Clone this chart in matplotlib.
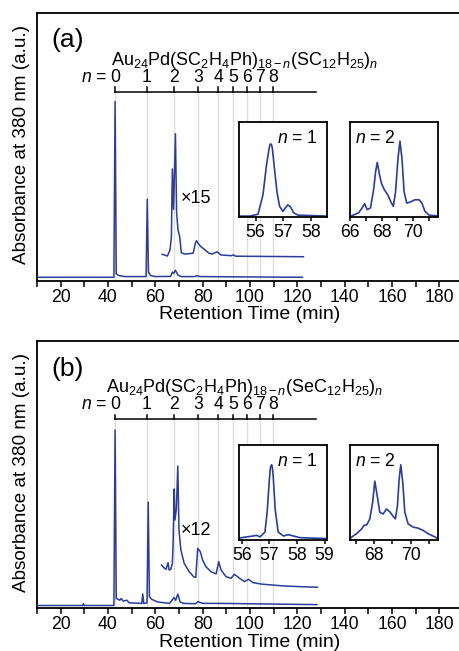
import matplotlib
matplotlib.use('Agg')
import matplotlib.pyplot as plt
from matplotlib.ticker import MultipleLocator

plt.rcParams['font.family'] = ['Liberation Sans', 'DejaVu Sans']
plt.rcParams['mathtext.fontset'] = 'custom'
plt.rcParams['mathtext.rm'] = 'Liberation Sans'
plt.rcParams['mathtext.it'] = 'Liberation Sans:italic'
plt.rcParams['mathtext.bf'] = 'Liberation Sans:bold'

BLUE = '#2b3c9b'
GRID = '#dedede'
FS = 12.7

# retention times of n = 0..8 (min)
n_labels = ['0', '1', '2', '3', '4', '5', '6', '7', '8']
n_times = [43.0, 56.5, 67.8, 78.1, 86.5, 93.0, 98.9, 104.4, 109.9]

# ---- panel (a): Au24Pd(SC2H4Ph)18-n(SC12H25)n ----
a_time = [10, 42.5, 43.0, 43.5, 44.5, 47, 56.1, 56.6, 57.1, 58, 60, 66.5, 67.2,
          67.8, 68.5, 69.6, 71, 76.5, 77.5, 79, 122.2]
a_abs = [0, 0, 1.0, 0.02, 0.01, 0.004, 0.004, 0.444, 0.03, 0.01, 0.004, 0.005,
         0.03, 0.022, 0.04, 0.012, 0.004, 0.004, 0.008, 0.004, 0.0]

# x15 magnified trace (relative to its own baseline)
a15_time = [62.9, 65.1, 66.2, 66.8, 67.2, 67.7, 68.5, 69.0, 69.6, 70.3, 71.0, 72.5,
            76, 76.9, 77.4, 78.3, 79.3, 80.7, 82.8, 84.2, 86.1, 87.8, 92, 93, 94, 122.6]
a15_abs = [0.014, 0.004, 0.038, 0.114, 0.50, 0.27, 0.70, 0.25, 0.152, 0.114, 0.023,
           0.015, 0.02, 0.076, 0.091, 0.072, 0.057, 0.042, 0.019, 0.016, 0.028,
           0.01, 0.006, 0.01, 0.003, 0.0]
a15_offset = 0.117

# inset n = 1
a1_time = [55.4, 55.79, 56.09, 56.27, 56.39, 56.49, 56.52, 56.55, 56.58, 56.61, 56.69,
           56.78, 56.87, 56.99, 57.09, 57.17, 57.26, 57.38, 57.54, 58.6]
a1_abs = [0.0, 0.0, 0.02, 0.23, 0.53, 0.72, 0.76, 0.77, 0.76, 0.72, 0.49, 0.25, 0.105,
          0.05, 0.09, 0.12, 0.10, 0.035, 0.01, 0.0]

# inset n = 2
a2_time = [66.0, 66.06, 66.55, 66.77, 66.93, 67.09, 67.30, 67.51, 67.62, 67.73, 67.86,
           68.0, 68.19, 68.40, 68.58, 68.75, 68.89, 69.04, 69.17, 69.30, 69.43, 69.60,
           69.75, 69.90, 70.11, 70.38, 70.56, 70.75, 71.02, 71.66]
a2_abs = [0, 0.0, 0.035, 0.087, 0.132, 0.069, 0.087, 0.295, 0.469, 0.573, 0.451, 0.347,
          0.278, 0.226, 0.156, 0.104, 0.26, 0.608, 0.799, 0.608, 0.26, 0.139, 0.146,
          0.156, 0.174, 0.174, 0.139, 0.052, 0.01, 0.0]

# ---- panel (b): Au24Pd(SC2H4Ph)18-n(SeC12H25)n ----
b_time = [10, 29.3, 29.6, 30, 42.5, 43.0, 43.5, 45.0, 45.6, 46.5, 48.0, 49, 54.3,
          54.7, 55.1, 56.5, 57.0, 57.5, 58.5, 61, 66, 67.9, 68.6, 69.5, 70.5, 72,
          77, 78, 80, 86.7, 128.3]
b_abs = [0, 0, 0.01, 0, 0, 1.0, 0.04, 0.03, 0.04, 0.025, 0.03, 0.015, 0.012,
         0.065, 0.012, 0.015, 0.59, 0.05, 0.035, 0.02, 0.012, 0.045, 0.03, 0.065,
         0.02, 0.012, 0.01, 0.022, 0.012, 0.012, 0.005]

# x12 magnified trace (absolute height)
b12_time = [62.6, 63.7, 64.5, 65.4, 65.8, 66.5, 67.2, 67.5, 68.0, 68.3, 68.9, 69.5,
            70.0, 70.8, 72.2, 74.3, 76.2, 77.1, 77.9, 79.0, 80.0, 81.4, 83.5, 85.7,
            86.8, 87.8, 89.9, 92.0, 93.4, 95.6, 97.7, 99.4, 101.3, 104.8, 109.1,
            114.7, 121.8, 128.5]
b12_abs = [0.231, 0.214, 0.206, 0.244, 0.202, 0.205, 0.24, 0.35, 0.664, 0.487, 0.55,
           0.795, 0.43, 0.316, 0.24, 0.193, 0.164, 0.16, 0.326, 0.307, 0.259, 0.221,
           0.193, 0.18, 0.25, 0.202, 0.164, 0.155, 0.178, 0.155, 0.136, 0.149, 0.13,
           0.122, 0.117, 0.111, 0.107, 0.104]

b1_time = [55.9, 55.93, 56.41, 56.54, 56.66, 56.84, 56.92, 57.0, 57.04, 57.08, 57.11,
           57.14, 57.21, 57.32, 57.51, 57.69, 57.87, 58.11, 59.1]
b1_abs = [0.007, 0.007, 0.028, 0.035, 0.018, 0.07, 0.28, 0.63, 0.76, 0.79, 0.76,
          0.665, 0.316, 0.07, 0.028, 0.042, 0.028, 0.01, 0.0]

b2_time = [66.7, 66.74, 66.88, 67.06, 67.34, 67.46, 67.61, 67.78, 67.93, 68.05, 68.18,
           68.32, 68.50, 68.68, 68.86, 69.04, 69.17, 69.28, 69.37, 69.46, 69.57, 69.68,
           69.86, 70.13, 70.40, 70.67, 70.94, 71.21, 71.42, 71.5]
b2_abs = [0.007, 0.007, 0.028, 0.053, 0.105, 0.14, 0.147, 0.211, 0.386, 0.614, 0.456,
          0.281, 0.263, 0.316, 0.288, 0.239, 0.211, 0.351, 0.632, 0.789, 0.596, 0.281,
          0.158, 0.123, 0.112, 0.088, 0.053, 0.028, 0.007, 0.007]

fig = plt.figure(figsize=(4.59, 6.51), dpi=100)

mag_label_txt = {'(a)': '\u00d715', '(b)': '\u00d712'}


def main_panel(rect, ylim, letter, formula, t, y, tm, ym, moff, mag_y, scale_y):
    ax = fig.add_axes(rect)
    ax.set_xlim(10, 190)
    ax.set_ylim(*ylim)
    for s in ['left', 'top', 'bottom']:
        ax.spines[s].set_linewidth(1.3)
    ax.spines['right'].set_visible(False)
    ax.set_yticks([])
    ax.xaxis.set_minor_locator(MultipleLocator(10))
    ax.set_xticks(range(20, 181, 20))
    ax.tick_params(axis='x', which='both', direction='out', length=4, width=1.1,
                   labelsize=FS, pad=1.5)
    ax.set_xlabel('Retention Time (min)', fontsize=14, labelpad=0.5)

    # guide lines for each n
    for tn in n_times:
        ax.plot([tn, tn], [ylim[0], scale_y], color=GRID, lw=1.0, zorder=1)
        ax.plot([tn, tn], [scale_y, scale_y + 0.025], color='black', lw=1.1, zorder=3)
    ax.plot([n_times[0], 128.0], [scale_y, scale_y], color='black', lw=1.1, zorder=3)
    for tn, lab in zip(n_times, n_labels):
        ax.text(tn, scale_y + 0.032, lab, ha='center', va='bottom', fontsize=FS)
    ax.text(n_times[0] - 3.4, scale_y + 0.032, r'$n$ =', ha='right', va='bottom',
            fontsize=FS)
    ax.text(97.6, scale_y + 0.18, formula, ha='center', va='center', fontsize=13)
    ax.text(16.0, 1.35, letter, ha='left', va='center', fontsize=19)

    ax.plot(t, y, color=BLUE, lw=1.1, zorder=4)
    ax.plot(tm, [v + moff for v in ym], color=BLUE, lw=1.1, zorder=4)
    ax.text(70.8, mag_y, mag_label_txt[letter], ha='left', va='center', fontsize=13)
    return ax


def inset(rect, xlim, ticks, labels, t, y, label, lab_x, lab_ha):
    ax = fig.add_axes(rect, zorder=5)
    ax.set_facecolor('white')
    ax.set_xlim(*xlim)
    ax.set_ylim(-0.015, 1.0)
    for s in ax.spines.values():
        s.set_linewidth(1.3)
    ax.set_yticks([])
    ax.set_xticks(ticks)
    ax.set_xticklabels(labels)
    ax.tick_params(axis='x', direction='out', length=3, width=1.1, labelsize=FS, pad=2)
    ax.plot(t, y, color=BLUE, lw=1.2)
    ax.text(lab_x, 0.83, label, transform=ax.transAxes, ha=lab_ha, va='center',
            fontsize=FS)
    return ax


form_a = r'Au$_{24}$Pd(SC$_{2}$H$_{4}$Ph)$_{18-\mathit{n}}$(SC$_{12}$H$_{25}$)$_{\mathit{n}}$'
form_b = r'Au$_{24}$Pd(SC$_{2}$H$_{4}$Ph)$_{18-\mathit{n}}$(SeC$_{12}$H$_{25}$)$_{\mathit{n}}$'

main_panel([0.0806, 0.5684, 0.928, 0.4112], (-0.021, 1.503), '(a)', form_a,
           a_time, a_abs, a15_time, a15_abs, a15_offset, 0.45, 1.057)
main_panel([0.0806, 0.0656, 0.928, 0.4111], (-0.016, 1.509), '(b)', form_b,
           b_time, b_abs, b12_time, b12_abs, 0.0, 0.43, 1.063)

inset([0.5207, 0.6659, 0.1924, 0.1462], (55.4, 58.6), [56, 57, 58], ['56', '57', '58'],
      a1_time, a1_abs, r'$n$ = 1', 0.89, 'right')
inset([0.7625, 0.6659, 0.1924, 0.1462], (66.0, 71.6), [66, 67, 68, 69, 70, 71],
      ['66', '', '68', '', '70', ''], a2_time, a2_abs, r'$n$ = 2', 0.06, 'left')
inset([0.5207, 0.1705, 0.1924, 0.1459], (55.9, 59.1), [56, 57, 58, 59],
      ['56', '57', '58', '59'], b1_time, b1_abs, r'$n$ = 1', 0.89, 'right')
inset([0.7625, 0.1705, 0.1924, 0.1459], (66.7, 71.5), [67, 68, 69, 70, 71],
      ['', '68', '', '70', ''], b2_time, b2_abs, r'$n$ = 2', 0.06, 'left')

for yc in [1 - 145 / 651, 1 - 473 / 651]:
    fig.text(22 / 459, yc, 'Absorbance at 380 nm (a.u.)', rotation=90, ha='center',
             va='center', fontsize=13.6)

fig.savefig('out.png', dpi=100)
